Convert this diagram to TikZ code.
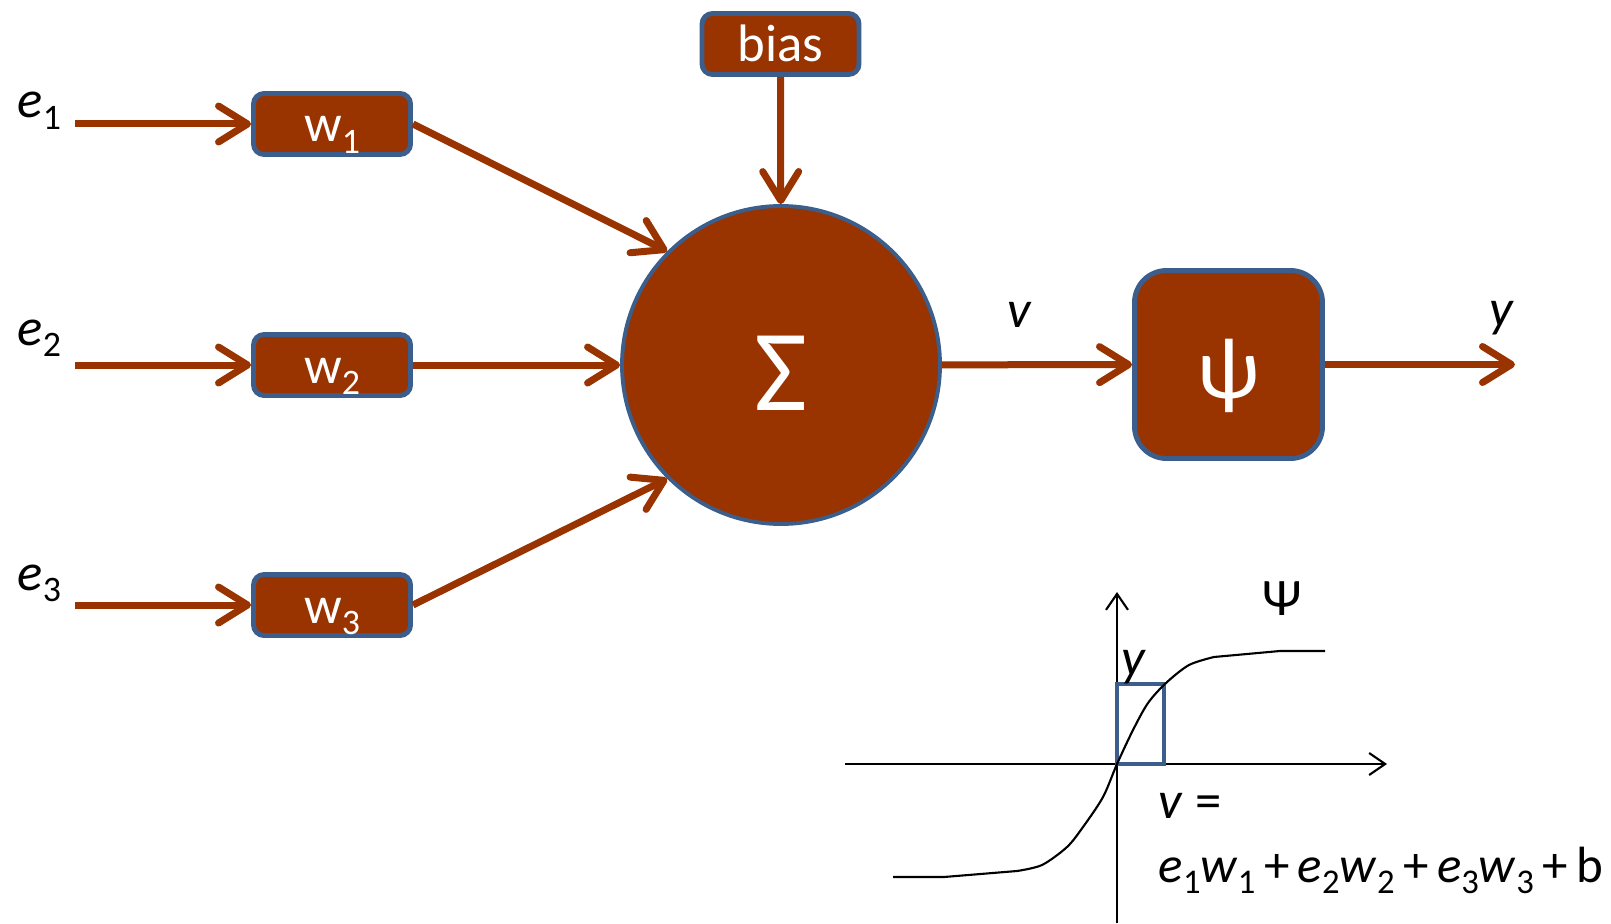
\documentclass[tikz,border=0pt]{standalone}
\usepackage{fontspec}
\setmainfont{Carlito}
\usepackage{graphicx}
\usepackage{tikz}
\usetikzlibrary{positioning}
\usetikzlibrary{arrows.meta}
\definecolor{rust}{RGB}{153,51,0}
\definecolor{edgeblue}{RGB}{59,94,140}
\newcommand{\sbs}[1]{\raisebox{-0.22em}{\scalebox{0.68}{#1}}}

\begin{document}
\begin{tikzpicture}[
        weight/.style={draw=edgeblue, line width=1.4pt, fill=rust, rounded corners=3pt,
            minimum width=1.57cm, minimum height=0.61cm, inner sep=0pt, text=white,
            font=\fontsize{15}{17}\selectfont, text height=0.4cm, text depth=0.04cm},
        wire/.style={draw=rust, line width=0.07cm, -{Straight Barb[length=2.9mm,width=3.6mm,round]}},
        axis/.style={line width=0.6pt, -{Straight Barb[length=1.6mm,width=2.2mm]}},
        lbl/.style={font=\fontsize{15}{17}\selectfont, inner sep=0pt}
    ]
        \useasboundingbox (0,0) rectangle (16.11,9.23);

        % inputs and weights
        \foreach \i/\y/\b in {1/7.99/8.05,2/5.58/5.78,3/3.18/3.33} {
            \node[weight] (w\i) at (3.32,\y) {w\sbs{\i}};
            \node[lbl, anchor=base west] (e\i) at (0.17,\b) {\textit{e}\sbs{\i}};
            \coordinate (in\i) at (0.75,\y);
            \draw[wire] (in\i) -- (w\i);
        }
        \node[weight] (bias) at (7.805,8.79) {bias};
        \node[circle, draw=edgeblue, line width=1.1pt, fill=rust, minimum size=3.18cm,
            text=white, font=\fontsize{33}{36}\selectfont] (sum) at (7.81,5.58)
            {\raisebox{-0.08cm}[\height][\depth]{Σ}};
        \node[draw=edgeblue, line width=1.4pt, fill=rust, rounded corners=0.32cm,
            minimum size=1.88cm, text=white, font=\fontsize{25}{28}\selectfont] (act) at (12.285,5.585)
            {\raisebox{-0.11cm}[\height][\depth]{ψ}};
        \coordinate (out) at (15.15,5.585);

        \draw[wire] (w1.east) -- (sum.135);
        \draw[wire] (w2) -- (sum);
        \draw[wire] (w3.east) -- (sum.225);
        \draw[wire] (bias) -- (sum);
        \draw[wire] (sum) -- (act);
        \draw[wire] (act) -- (out);
        \node[lbl, anchor=base] (vout) at (10.20,5.96) {\textit{v}};
        \node[lbl, anchor=base] (yout) at (15.02,5.97) {\textit{y}};

        % transfer function
        \draw[axis] (8.45,1.59) -- (13.87,1.59);
        \draw[axis] (11.17,0) -- (11.17,3.31);
        \draw[edgeblue, line width=0.9pt] (11.17,1.59) rectangle (11.64,2.39);
        \draw[line width=0.6pt] (8.93,0.46) -- (9.44,0.46)
            -- plot[smooth] coordinates {(10.17,0.52) (10.42,0.58) (10.67,0.76) (10.83,0.96) (11.03,1.26)
            (11.17,1.59) (11.33,1.93) (11.48,2.20) (11.66,2.40) (11.89,2.58) (12.14,2.66)}
            -- (12.80,2.72) -- (13.25,2.72);
        \node[lbl] (psi) at (12.82,3.24) {Ψ};
        \node[lbl, anchor=base] (ycurve) at (11.34,2.48) {\textit{y}};
        \node[lbl, anchor=base west] (vlabel) at (11.58,1.05) {\textit{v} =};
        \node[lbl, anchor=base west, font=\fontsize{14.5}{17}\selectfont] (vsum) at (11.58,0.41)
            {\textit{e}\sbs{1}\textit{w}\sbs{1}\,+\,\textit{e}\sbs{2}\textit{w}\sbs{2}\,+\,\textit{e}\sbs{3}\textit{w}\sbs{3}\,+\,b};
    \end{tikzpicture}
\end{document}
